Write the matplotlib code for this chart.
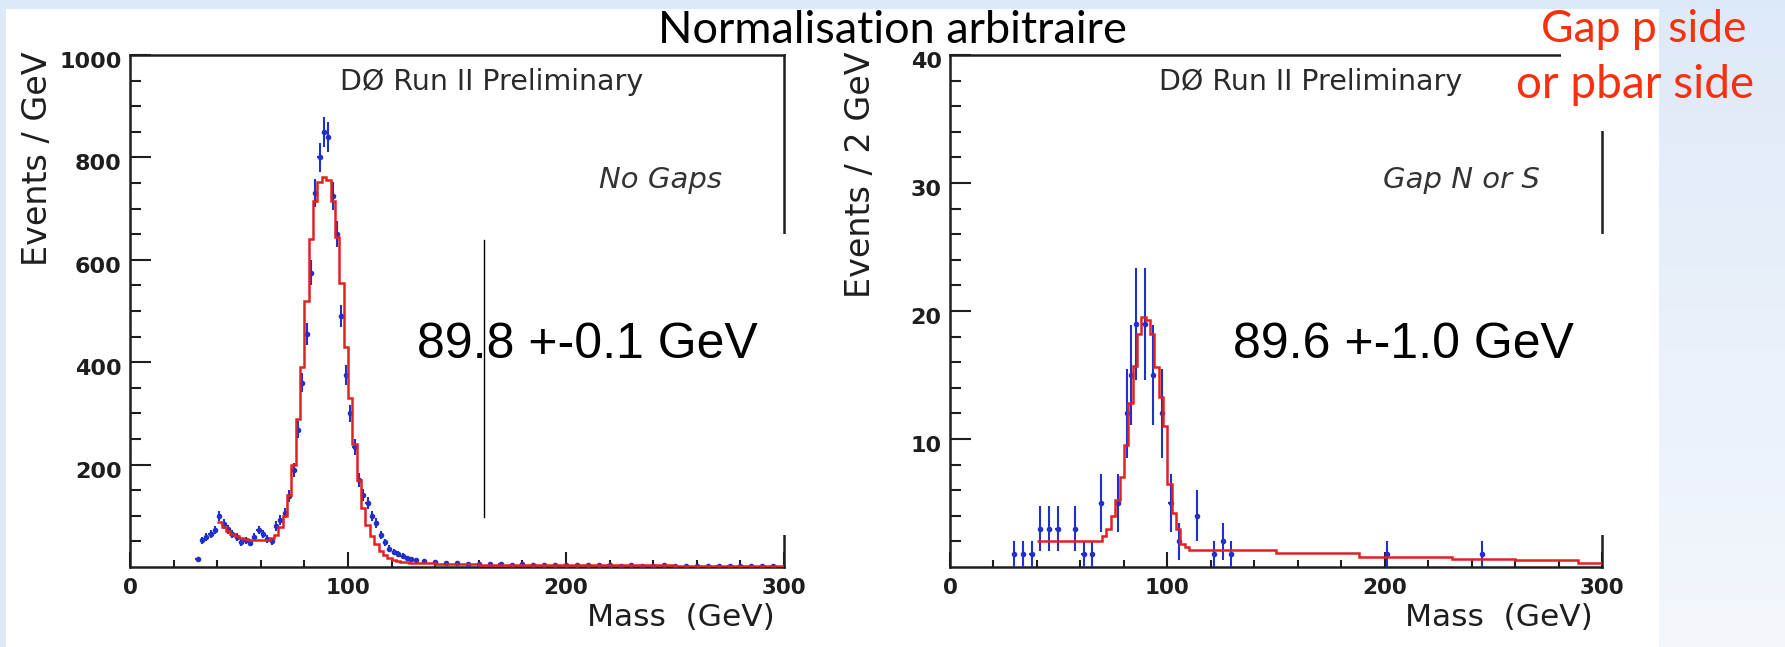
import numpy as np
import matplotlib.pyplot as plt
from matplotlib.patches import Rectangle
from matplotlib.lines import Line2D
from matplotlib.colors import LinearSegmentedColormap
from matplotlib.transforms import ScaledTranslation

plt.rcParams['font.family'] = ['DejaVu Sans']

# --- data ---
# left: no gaps, events / GeV
mass_nogap = [31, 33, 35, 37, 39, 41, 43, 45, 47, 49, 51, 53, 55, 57, 59, 61, 63, 65, 67, 69,
              71, 73, 75, 77, 79, 81, 83, 85, 87, 89, 91, 93, 95, 97, 99, 101, 103, 105, 107, 109,
              111, 113, 115, 117, 119, 121, 123, 125, 127, 129, 131,
              135, 140, 145, 150, 155, 160, 165, 170, 175, 180, 185, 190, 195, 200, 205, 210, 215,
              220, 225, 230, 235, 240, 245, 250, 255, 260, 265, 270, 275, 280, 285, 290, 295]
events_nogap = [15, 52, 58, 64, 72, 100, 84, 74, 64, 58, 48, 52, 47, 58, 72, 64, 55, 50, 80, 92,
                105, 138, 190, 268, 360, 455, 575, 730, 800, 850, 840, 725, 650, 490, 375, 300, 235, 170, 140, 125,
                100, 86, 62, 48, 36, 30, 26, 22, 18, 15, 13,
                11, 9, 8, 7, 6, 6, 5, 5, 4, 5, 4, 4, 3, 4, 3, 3, 3,
                3, 2, 3, 2, 2, 3, 2, 2, 2, 2, 2, 1, 2, 1, 2, 1]
fit_edges_nogap = list(range(40, 131, 2)) + [140, 160, 200, 250, 300]
fit_nogap = [88, 78, 70, 64, 60, 57, 55, 53, 52, 52, 52, 53, 56, 63, 78, 100, 140, 200, 290, 390,
             520, 640, 715, 752, 762, 755, 715, 645, 555, 430, 330, 240, 170, 115, 82, 60, 44, 32, 24, 18,
             14, 11, 10, 9, 8,
             7, 6, 4, 3, 2]

# right: gap N or S, events / 2 GeV
mass_gap = [29.5, 33.5, 37.5, 41.5, 45.5, 49.5, 57.5, 61.5, 65.5, 69.5, 77.5, 81.5, 83.5,
            85.5, 89.5, 93.5, 97.5, 101.5, 105.5, 113.5, 121.5, 125.5, 129.5, 201, 245]
events_gap = [1, 1, 1, 3, 3, 3, 3, 1, 1, 5, 5, 12, 15,
              19, 19, 15, 12, 5, 2, 4, 1, 2, 1, 1, 1]
fit_edges_gap = [40] + list(range(68, 111, 2)) + [150, 188, 231, 260, 289, 300]
fit_gap = [2.0, 2.0, 2.4, 3.0, 4.0, 5.2, 7.0, 9.5, 12.8, 15.7, 18.2, 19.5, 19.3, 18.2, 15.6,
           13.3, 11.0, 6.5, 4.2, 3.0, 1.8, 1.6, 1.35, 1.1, 0.8, 0.6, 0.55, 0.35]

W, H = 1785, 647
fig = plt.figure(figsize=(W / 100, H / 100), dpi=100)
fig.patch.set_facecolor('#dce9f8')

# slide background: white sheet, light blue strip on the right
fig.add_artist(Rectangle((6 / W, 0), (1659 - 6) / W, (H - 9) / H, transform=fig.transFigure,
                         facecolor='white', edgecolor='none', zorder=-5))
strip = fig.add_axes([1659 / W, 0, 1 - 1659 / W, (H - 9) / H], zorder=-4)
strip.imshow(np.linspace(0, 1, 64).reshape(-1, 1), aspect='auto',
             cmap=LinearSegmentedColormap.from_list('bg', ['#dfeaf8', '#f3f7fc']))
strip.axis('off')

blue = '#2030cc'
red = '#e02222'
ink = '#1e1e1e'
down = ScaledTranslation(0, -0.05, fig.dpi_scale_trans)


def root_axes(rect, xmaj, ymaj, ymin_step, ylim):
    ax = fig.add_axes(rect)
    ax.set_xlim(0, 300)
    ax.set_ylim(*ylim)
    ax.set_xticks(xmaj)
    ax.set_xticks(np.arange(0, 301, 20), minor=True)
    ax.set_yticks(ymaj)
    ax.set_yticks(np.arange(ymin_step, ylim[1] + 0.1, ymin_step), minor=True)
    ax.tick_params(which='both', direction='in', top=False, right=False, width=1.5, colors=ink)
    ax.tick_params(axis='y', which='major', length=15, pad=6, labelsize=16)
    ax.tick_params(axis='y', which='minor', length=8)
    ax.tick_params(axis='x', which='major', length=11, pad=8, labelsize=15.5)
    ax.tick_params(axis='x', which='minor', length=5)
    for lab in ax.get_xticklabels() + ax.get_yticklabels():
        lab.set_fontweight('bold')
    for lab in ax.get_yticklabels():
        lab.set_transform(lab.get_transform() + down)
    for s in ax.spines.values():
        s.set_linewidth(1.8)
        s.set_color(ink)
    return ax


ax1 = root_axes([130 / W, 80 / H, 654 / W, 512 / H], [0, 100, 200, 300],
                [200, 400, 600, 800, 1000], 50, (0, 1000))
ax2 = root_axes([950 / W, 80 / H, 652 / W, 512 / H], [0, 100, 200, 300],
                [10, 20, 30, 40], 2, (0, 40))

ax1.errorbar(mass_nogap, events_nogap, yerr=np.sqrt(events_nogap), xerr=1, fmt='o', ms=3,
             color=blue, elinewidth=1.5, capsize=0, zorder=3)
ax1.stairs(fit_nogap, fit_edges_nogap, baseline=None, color=red, lw=1.8, zorder=4)
ax2.errorbar(mass_gap, events_gap, yerr=np.sqrt(events_gap), xerr=1, fmt='o', ms=3,
             color=blue, elinewidth=1.5, capsize=0, zorder=3)
ax2.stairs(fit_gap, fit_edges_gap, baseline=None, color=red, lw=1.8, zorder=4)

for ax, ylab, tag, xc in [(ax1, 'Events / GeV', 'No Gaps', -0.141),
                          (ax2, 'Events / 2 GeV', 'Gap N or S', -0.138)]:
    ax.text(0.553, 0.947, 'DØ Run II Preliminary', transform=ax.transAxes, ha='center',
            va='center', fontsize=20.5, color='#2a2a2a')
    ax.text(0.905, 0.756, tag, transform=ax.transAxes, ha='right', va='center',
            fontsize=21, style='italic', color='#333333')
    ax.text(xc, 1.008, ylab, transform=ax.transAxes, rotation=90, ha='center', va='top',
            fontsize=24, color=ink)
    ax.text(0.986, -0.098, 'Mass  (GeV)', transform=ax.transAxes, ha='right', va='center',
            fontsize=22.5, color=ink)

# white boxes pasted over the plots on the slide
for x0, y0, x1, y1 in [(484, 234, 792, 535), (1230, 234, 1612, 535), (1561, 9, 1659, 131)]:
    fig.add_artist(Rectangle((x0 / W, (H - y1) / H), (x1 - x0) / W, (y1 - y0) / H,
                             transform=fig.transFigure, facecolor='white', edgecolor='none', zorder=5))
fig.add_artist(Line2D([484 / W, 484 / W], [(H - 240) / H, (H - 517) / H], transform=fig.transFigure,
                      color='black', lw=1, zorder=6))

fig.text(417 / W, (H - 358) / H, '89.8 +-0.1 GeV', ha='left', va='baseline', fontsize=36,
         family='Liberation Sans', color='black', zorder=7)
fig.text(1233 / W, (H - 358) / H, '89.6 +-1.0 GeV', ha='left', va='baseline', fontsize=36,
         family='Liberation Sans', color='black', zorder=7)

fig.text(892 / W, (H - 43) / H, 'Normalisation arbitraire', ha='center', va='baseline',
         fontsize=32.5, family='Lato', color='black', zorder=7)
fig.text(1644 / W, (H - 42) / H, 'Gap p side', ha='center', va='baseline',
         fontsize=32, family='Lato', color='#f8300f', zorder=7)
fig.text(1635 / W, (H - 98) / H, 'or pbar side', ha='center', va='baseline',
         fontsize=33, family='Lato', color='#f8300f', zorder=7)

fig.savefig('out.png', dpi=100, facecolor=fig.get_facecolor())
